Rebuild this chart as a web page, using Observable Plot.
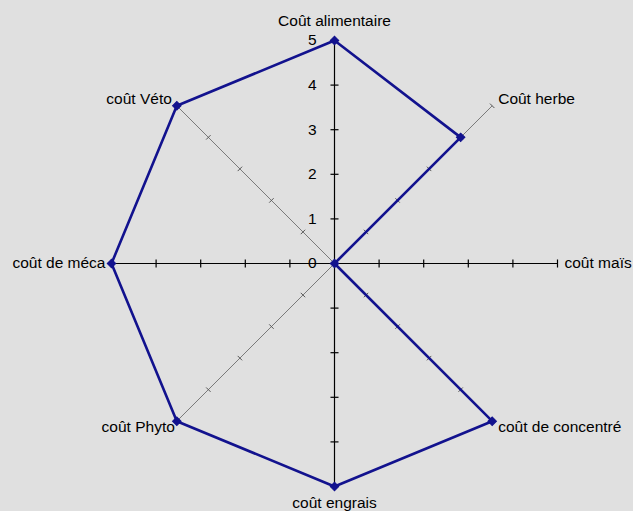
<!DOCTYPE html>
<html>
<head>
<meta charset="utf-8">
<script src="https://cdn.jsdelivr.net/npm/d3@7"></script>
<script src="https://cdn.jsdelivr.net/npm/@observablehq/plot@0.6"></script>
<style>
  html, body { margin: 0; padding: 0; background: #e0e0e0; }
  #chart svg { display: block; }
</style>
</head>
<body>
<div id="chart"></div>
<script>
// ---- data ----
const categories = ["Coût alimentaire", "Coût herbe", "coût maïs", "coût de concentré", "coût engrais", "coût Phyto", "coût de méca", "coût Véto"];
const values = [5, 4, 0, 5, 5, 5, 5, 5];
const tickValues = [0, 1, 2, 3, 4, 5];
const tickLabels = ["0", "1", "2", "3", "4", "5"];
const maxValue = 5;

// ---- styles (label placement per axis) ----
const labelStyle = [
  {anchor: "middle", dx: 0, dy: -19},
  {anchor: "start", dx: 6, dy: -7},
  {anchor: "start", dx: 7, dy: 0},
  {anchor: "start", dx: 6, dy: 6},
  {anchor: "middle", dx: 0, dy: 17},
  {anchor: "end", dx: -2, dy: 6},
  {anchor: "end", dx: -6, dy: 0},
  {anchor: "end", dx: -5, dy: -7}
];

const n = categories.length;
const angle = i => i * 2 * Math.PI / n; // clockwise from top
const pos = (i, v) => ({x: v * Math.sin(angle(i)), y: v * Math.cos(angle(i))});

// axes
const axes = categories.map((c, i) => ({
  name: c, i,
  x1: 0, y1: 0, x2: pos(i, maxValue).x, y2: pos(i, maxValue).y,
  main: i % 2 === 0
}));

// tick marks along each axis (perpendicular)
const ticks = [];
axes.forEach(a => {
  const half = a.main ? 0.09 : 0.07;
  const px = Math.cos(angle(a.i)), py = -Math.sin(angle(a.i));
  tickValues.filter(t => t > 0).forEach(t => {
    const p = pos(a.i, t);
    ticks.push({x1: p.x - half * px, y1: p.y - half * py, x2: p.x + half * px, y2: p.y + half * py, main: a.main});
  });
});

// series
const pts = values.map((v, i) => ({cat: categories[i], v, ...pos(i, v)}));
const ring = [...pts, pts[0]];

const font = "'Liberation Sans', Arial, sans-serif";

const labelMarks = categories.map((c, i) => Plot.text([{c, ...pos(i, maxValue)}], {
  x: "x", y: "y", text: "c",
  textAnchor: labelStyle[i].anchor, dx: labelStyle[i].dx, dy: labelStyle[i].dy,
  fill: "#000", fontSize: 15.5, fontFamily: font
}));

const chart = Plot.plot({
  width: 633,
  height: 511,
  marginLeft: 111,
  marginRight: 76,
  marginTop: 40,
  marginBottom: 25,
  x: {domain: [-maxValue, maxValue], axis: null},
  y: {domain: [-maxValue, maxValue], axis: null},
  style: {background: "#e0e0e0", fontFamily: font},
  marks: [
    Plot.link(axes.filter(a => !a.main), {x1: "x1", y1: "y1", x2: "x2", y2: "y2", stroke: "#7a7a7a", strokeWidth: 1}),
    Plot.link(ticks.filter(t => !t.main), {x1: "x1", y1: "y1", x2: "x2", y2: "y2", stroke: "#555", strokeWidth: 1}),
    Plot.link(axes.filter(a => a.main), {x1: "x1", y1: "y1", x2: "x2", y2: "y2", stroke: "#000", strokeWidth: 1.2}),
    Plot.link(ticks.filter(t => t.main), {x1: "x1", y1: "y1", x2: "x2", y2: "y2", stroke: "#000", strokeWidth: 1.2}),
    Plot.text(tickValues.map((t, k) => ({t, label: tickLabels[k]})), {
      x: 0, y: "t", text: "label", textAnchor: "end", dx: -18, fill: "#000", fontSize: 15.5, fontFamily: font
    }),
    Plot.line(ring, {x: "x", y: "y", stroke: "#12128e", strokeWidth: 2.6, curve: "linear"}),
    Plot.dot(pts, {x: "x", y: "y", symbol: "square", rotate: 45, r: 3.4, fill: "#12128e", stroke: "#12128e", strokeWidth: 1}),
    ...labelMarks
  ]
});

document.getElementById("chart").appendChild(chart);
</script>
</body>
</html>
